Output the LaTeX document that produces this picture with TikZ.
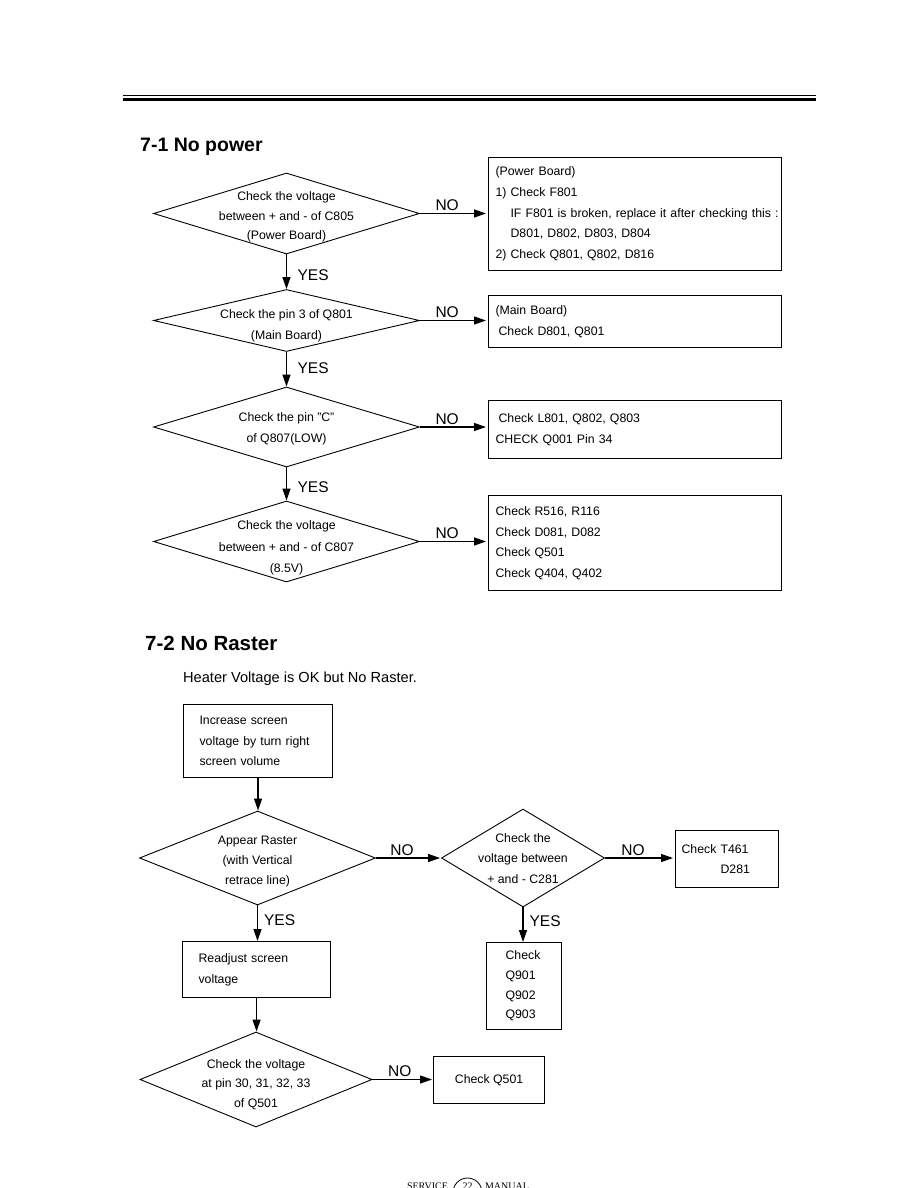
\documentclass[tikz,border=0pt]{standalone}
\usepackage{fontspec}
\setmainfont{Liberation Sans}
\newfontfamily\footserif{Liberation Serif}
\usetikzlibrary{arrows.meta,shapes.geometric}

\newcommand{\boxfont}{\fontsize{12.3}{20.7}\selectfont}
\newcommand{\tagfont}{\fontsize{15.5}{18}\selectfont}

\begin{document}
\begin{tikzpicture}[x=1pt,y=-1pt,>={Triangle[length=12pt,width=8pt]},line join=miter]
  \tikzset{
    decision/.style={diamond,draw,line width=0.9pt,inner sep=0pt},
    dtext/.style={align=center,font=\boxfont},
    box/.style={draw,line width=1.1pt,anchor=north west,align=left,font=\boxfont},
    arr/.style={->,line width=1.3pt},
    nolbl/.style={above,pos=0.4,inner sep=2pt,font=\tagfont},
    yeslbl/.style={right=5pt,pos=0.55,inner sep=1pt,font=\tagfont}
  }
  \useasboundingbox (0,0) rectangle (918,1188);

  % page rule
  \draw[line width=0.8pt] (123,95) -- (816,95);
  \draw[line width=3pt] (123,99.2) -- (816,99.2);

  % 7-1: no power
  \node[anchor=base west,inner sep=0pt,font=\bfseries\fontsize{19.5}{22}\selectfont] (t71) at (140,151) {7-1 No power};

  \node[decision,minimum width=266pt,minimum height=81pt,
    label={[dtext,yshift=-3.5pt,font=\fontsize{12.3}{19.8}\selectfont]center:{Check the voltage\\between + and - of C805\\(Power Board)}}] (c805) at (286.5,213.5) {};
  \node[decision,minimum width=266pt,minimum height=62pt,
    label={[dtext,yshift=-5pt]center:{Check the pin 3 of Q801\\(Main Board)}}] (q801) at (286.5,320.5) {};
  \node[decision,minimum width=266pt,minimum height=80pt,
    label={[dtext,yshift=-2pt]center:{Check the pin "C"\\of Q807(LOW)}}] (q807) at (286.5,427) {};
  \node[decision,minimum width=266pt,minimum height=81pt,
    label={[dtext,yshift=-6.5pt,font=\fontsize{12.3}{21.5}\selectfont]center:{Check the voltage\\between + and - of C807\\(8.5V)}}] (c807) at (286.5,541.5) {};

  \node[box,text width=279pt,inner xsep=7pt,minimum height=113pt] (pwrbox) at (488,157)
    {(Power Board)\\1) Check F801\\\hspace*{15pt}\mbox{IF F801 is broken, replace it after checking this :}\\\hspace*{15pt}D801, D802, D803, D804\\2) Check Q801, Q802, D816};
  \node[box,text width=279pt,inner xsep=7pt,minimum height=52pt] (mainbox) at (488,295)
    {(Main Board)\\\hspace*{3pt}Check D801, Q801};
  \node[box,text width=279pt,inner xsep=7pt,minimum height=58pt] (l801box) at (488,400)
    {\hspace*{3pt}Check L801, Q802, Q803\\CHECK Q001 Pin 34};
  \node[box,text width=279pt,inner xsep=7pt,minimum height=95pt] (r516box) at (488,495)
    {Check R516, R116\\Check D081, D082\\Check Q501\\Check Q404, Q402};

  \draw[arr,shorten >=2pt] (c805.east) -- (pwrbox.west |- c805.east) node[nolbl] {NO};
  \draw[arr,shorten >=2pt] (q801.east) -- (mainbox.west |- q801.east) node[nolbl] {NO};
  \draw[arr,shorten >=2pt] (q807.east) -- (l801box.west |- q807.east) node[nolbl] {NO};
  \draw[arr,shorten >=2pt] (c807.east) -- (r516box.west |- c807.east) node[nolbl] {NO};
  \draw[arr] (c805.south) -- (q801.north) node[yeslbl,right=4.5pt,pos=0.6] {YES};
  \draw[arr] (q801.south) -- (q807.north) node[yeslbl,right=4.5pt,pos=0.47] {YES};
  \draw[arr] (q807.south) -- (c807.north) node[yeslbl,right=4.5pt,pos=0.6] {YES};

  % 7-2: no raster
  \node[anchor=base west,inner sep=0pt,font=\bfseries\fontsize{20.5}{24}\selectfont] (t72) at (145,650) {7-2 No Raster};
  \node[anchor=base west,inner sep=0pt,font=\fontsize{14.6}{18}\selectfont] (heater) at (183,682) {Heater Voltage is OK but No Raster.};

  \node[box,text width=117pt,inner xsep=16pt,minimum height=73pt] (incr) at (183,704)
    {Increase screen\\voltage by turn right\\screen volume};
  \node[decision,minimum width=236pt,minimum height=94pt,
    label={[dtext,yshift=-3.5pt,font=\fontsize{12.3}{19.8}\selectfont]center:{Appear Raster\\(with Vertical\\retrace line)}}] (raster) at (257.5,858) {};
  \node[decision,minimum width=163pt,minimum height=98pt,
    label={[dtext,yshift=-0.5pt,font=\fontsize{12.3}{20.2}\selectfont]center:{Check the\\voltage between\\+ and - C281}}] (c281) at (523,858) {};
  \node[box,text width=91pt,inner xsep=6pt,minimum height=57pt] (t461) at (675,830)
    {Check T461\\\hspace*{39pt}D281};
  \node[box,text width=37pt,inner xsep=19pt,minimum height=87pt,font=\fontsize{12.3}{19.7}\selectfont] (q90x) at (486,942)
    {Check\\Q901\\Q902\\Q903};
  \node[box,text width=116pt,inner xsep=16pt,minimum height=56pt] (readj) at (182,941)
    {Readjust screen\\voltage};
  \node[decision,minimum width=232pt,minimum height=95pt,
    label={[dtext,yshift=-5pt,font=\fontsize{12.3}{19.6}\selectfont]center:{Check the voltage\\at pin 30, 31, 32, 33\\of Q501}}] (q501v) at (256,1079.5) {};
  \node[box,align=center,minimum width=111pt,minimum height=47pt] (q501box) at (433,1056) {Check Q501};

  \draw[arr] (incr.south) -- (incr.south |- raster.north);
  \draw[arr,shorten >=1pt] (raster.east) -- (c281.west) node[nolbl] {NO};
  \draw[arr,shorten >=2pt] (c281.east) -- (t461.west |- c281.east) node[nolbl] {NO};
  \draw[arr] (c281.south) -- (c281.south |- q90x.north) node[yeslbl,pos=0.4] {YES};
  \draw[arr] (raster.south) -- (raster.south |- readj.north) node[yeslbl,pos=0.4] {YES};
  \draw[arr] (readj.south) -- (readj.south |- q501v.north);
  \draw[arr,shorten >=1pt] (q501v.east) -- (q501box.west |- q501v.east) node[nolbl,pos=0.45] {NO};

  % page footer, cut by the page edge
  \node[anchor=base,inner sep=0pt,font=\footserif\fontsize{10}{12}\selectfont] (svc) at (427.5,1189) {SERVICE};
  \node[circle,draw,line width=0.8pt,minimum size=29pt,inner sep=0pt] (pgno) at (467.5,1192.5) {};
  \node[anchor=base,inner sep=0pt,font=\footserif\fontsize{10}{12}\selectfont] (pgnum) at (467.5,1189) {22};
  \node[anchor=base,inner sep=0pt,font=\footserif\fontsize{10}{12}\selectfont] (man) at (507,1189) {MANUAL};
\end{tikzpicture}
\end{document}
